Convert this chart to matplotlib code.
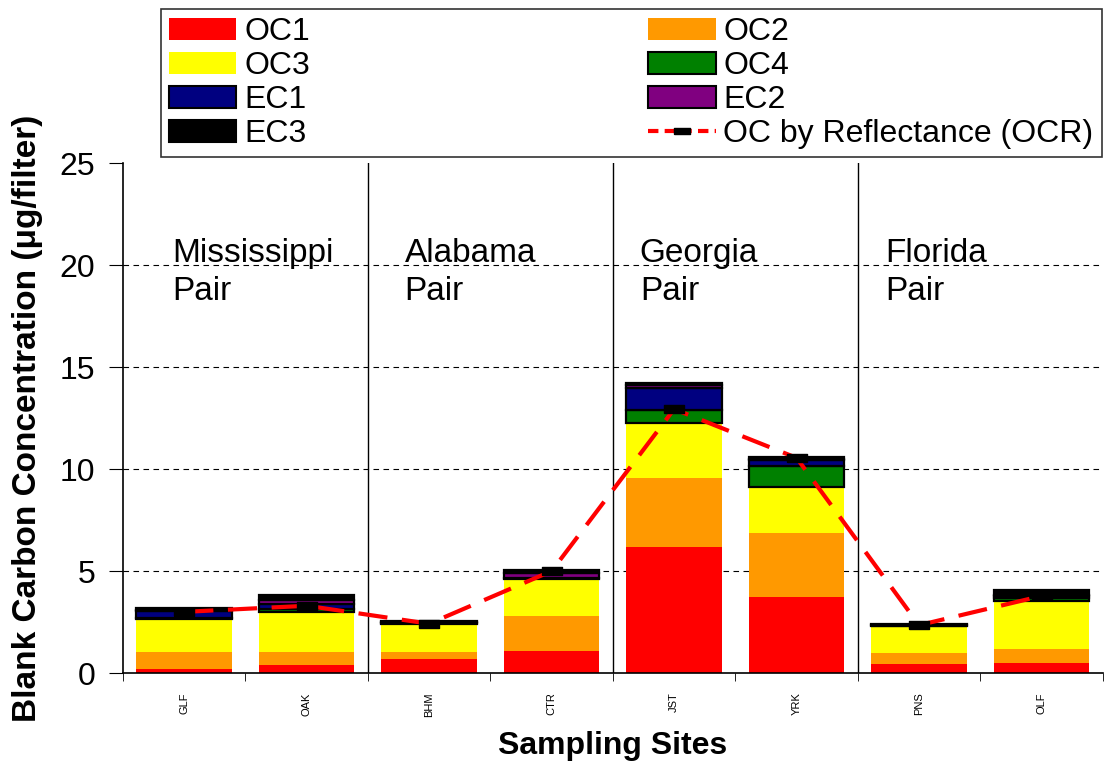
import numpy as np
import matplotlib.pyplot as plt
from matplotlib.patches import Patch
from matplotlib.lines import Line2D

plt.rcParams['font.family'] = ['Liberation Sans', 'DejaVu Sans']

# Blank carbon fractions by site (ug/filter)
sites = ['GLF', 'OAK', 'BHM', 'CTR', 'JST', 'YRK', 'PNS', 'OLF']
oc1 = [0.18, 0.39, 0.67, 1.08, 6.16, 3.71, 0.46, 0.51]
oc2 = [0.85, 0.64, 0.36, 1.72, 3.38, 3.14, 0.52, 0.67]
oc3 = [1.64, 1.97, 1.40, 1.83, 2.73, 2.29, 1.32, 2.35]
oc4 = [0.05, 0.14, 0.02, 0.02, 0.63, 1.03, 0.02, 0.15]
ec1 = [0.30, 0.26, 0.02, 0.02, 1.09, 0.28, 0.02, 0.12]
ec2 = [0.08, 0.18, 0.02, 0.25, 0.11, 0.04, 0.02, 0.05]
ec3 = [0.10, 0.27, 0.05, 0.15, 0.14, 0.08, 0.07, 0.20]
ocr = [3.0, 3.3, 2.42, 5.0, 12.94, 10.55, 2.35, 3.78]
pairs = ['Mississippi\nPair', 'Alabama\nPair', 'Georgia\nPair', 'Florida\nPair']

names = ['OC1', 'OC2', 'OC3', 'OC4', 'EC1', 'EC2', 'EC3']
series = [oc1, oc2, oc3, oc4, ec1, ec2, ec3]
colors = ['#ff0000', '#ff9900', '#ffff00', '#008000', '#000080', '#800080', '#000000']
edged = [False, False, False, True, True, True, True]

fig = plt.figure(figsize=(11.05, 7.71), dpi=100)
ax = fig.add_axes([0.1113, 0.127, 0.8867, 0.6615])

x = np.arange(len(sites))
bottom = np.zeros(len(sites))
for name, vals, c, e in zip(names, series, colors, edged):
    vals = np.array(vals)
    if e:
        ax.bar(x, vals, 0.78, bottom=bottom, color=c, edgecolor='black',
               linewidth=1.6, zorder=2)
    else:
        ax.bar(x, vals, 0.78, bottom=bottom, color=c, linewidth=0, zorder=2)
    bottom += vals

# OCR line with small black rectangle markers
rect = [(-1.6, -0.6), (1.6, -0.6), (1.6, 0.6), (-1.6, 0.6), (-1.6, -0.6)]
ax.plot(x, ocr, color='red', linestyle=(0, (7, 3.5)), linewidth=3, zorder=3)
ax.plot(x, ocr, linestyle='none', marker=rect, markersize=15,
        markerfacecolor='black', markeredgecolor='black', zorder=4)

ax.set_xlim(-0.5, len(sites) - 0.5)
ax.set_ylim(0, 25)
ax.set_yticks(np.arange(0, 26, 5))
for g in [5, 10, 15, 20]:
    ax.axhline(g, color='black', linestyle=(0, (5, 4)), linewidth=0.8, zorder=1)
for b in [1.5, 3.5, 5.5]:
    ax.axvline(b, color='black', linewidth=1, zorder=1)

for xp, p in zip([-0.1, 1.8, 3.72, 5.72], pairs):
    ax.text(xp, 21.35, p, fontsize=24, va='top', ha='left', linespacing=1.3)

ax.set_xticks(x)
ax.set_xticklabels(sites, rotation=90, fontsize=8)
ax.set_xticks(np.arange(-0.5, len(sites), 1), minor=True)
ax.tick_params(axis='x', which='major', length=0, pad=14)
ax.tick_params(axis='x', which='minor', length=6, direction='out')
ax.tick_params(axis='y', labelsize=23, length=10, pad=10, direction='out')
ax.spines['top'].set_visible(False)
ax.spines['right'].set_visible(False)
ax.spines['left'].set_linewidth(1.2)
ax.spines['bottom'].set_linewidth(1.2)

ax.set_xlabel('Sampling Sites', fontsize=23, fontweight='bold', labelpad=10)
ax.set_ylabel('Blank Carbon Concentration (\u03bcg/filter)', fontsize=24,
              fontweight='bold', labelpad=12)

handles = {}
for name, c, e in zip(names, colors, edged):
    handles[name] = Patch(facecolor=c, edgecolor='black' if e else c,
                          linewidth=1.5 if e else 0)
handles['OCR'] = Line2D([0], [0], color='red', linestyle=(0, (2.5, 1.5)),
                        linewidth=3, marker=rect, markersize=11,
                        markerfacecolor='black', markeredgecolor='black',
                        markevery=[1])
order = ['OC1', 'OC3', 'EC1', 'EC3', 'OC2', 'OC4', 'EC2', 'OCR']
labels = ['OC1', 'OC3', 'EC1', 'EC3', 'OC2', 'OC4', 'EC2', 'OC by Reflectance (OCR)']
leg = fig.legend([handles[k] for k in order], labels, ncol=2,
                 bbox_to_anchor=(161 / 1105, 1 - 9 / 771), loc='upper left',
                 fontsize=23, frameon=True, fancybox=False, edgecolor='black',
                 handlelength=2.1, handleheight=0.7, labelspacing=0.13,
                 handletextpad=0.25, columnspacing=10.6, borderaxespad=0,
                 borderpad=0.25)
leg.get_frame().set_linewidth(1.2)

fig.savefig('out.png', dpi=100)
